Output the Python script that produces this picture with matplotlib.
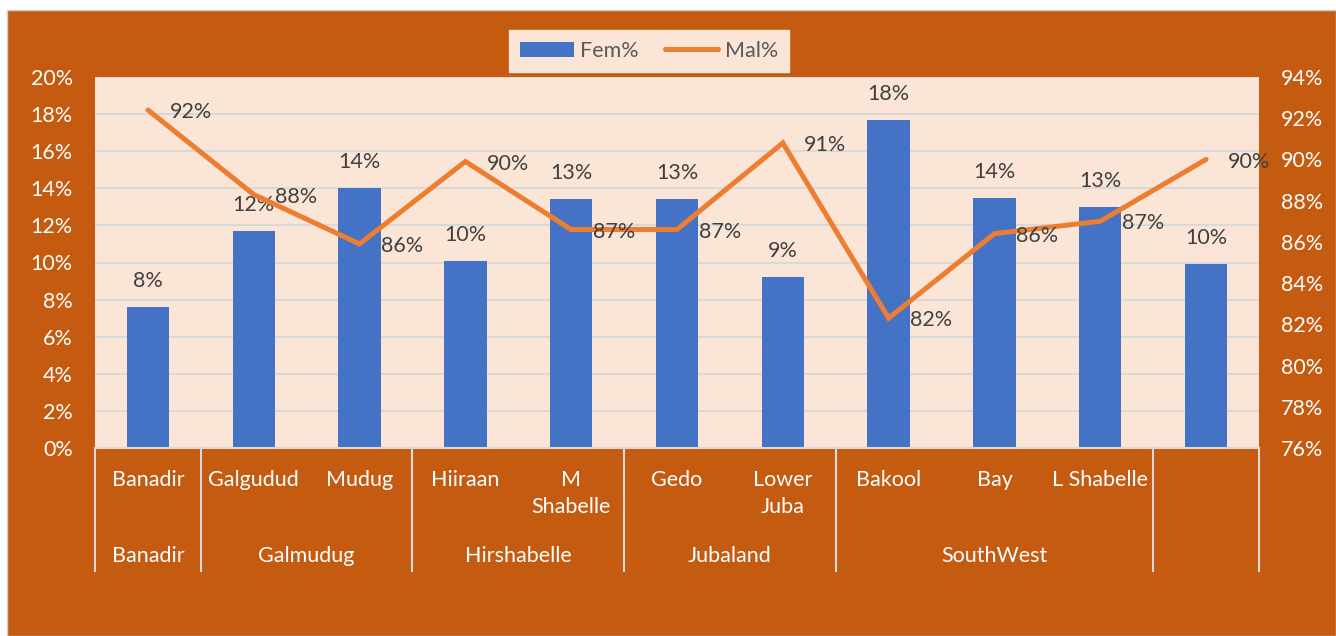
import matplotlib
matplotlib.use('Agg')
import matplotlib.pyplot as plt
from matplotlib.patches import Rectangle
from matplotlib.ticker import FuncFormatter
from matplotlib.lines import Line2D
import numpy as np

districts = ['Banadir', 'Galgudud', 'Mudug', 'Hiiraan', 'M\nShabelle', 'Gedo',
             'Lower\nJuba', 'Bakool', 'Bay', 'L Shabelle', '']
regions = ['Banadir', 'Galmudug', 'Hirshabelle', 'Jubaland', 'SouthWest', '']
region_sizes = [1, 2, 2, 2, 3, 1]
fem = [7.6, 11.7, 14.0, 10.1, 13.4, 13.4, 9.2, 17.7, 13.5, 13.0, 9.9]
mal = [92.4, 88.3, 85.9, 89.9, 86.6, 86.6, 90.8, 82.3, 86.4, 87.0, 90.0]
left_ticks = [0, 2, 4, 6, 8, 10, 12, 14, 16, 18, 20]
right_ticks = [76, 78, 80, 82, 84, 86, 88, 90, 92, 94]

ORANGE_BG = '#C55A11'
PLOT_BG = '#FBE5D6'
BLUE = '#4472C4'
LINE = '#ED7D31'
DARK = '#404040'
GRID = '#D9D9D9'

plt.rcParams['font.family'] = ['Lato', 'DejaVu Sans']
FS = 15.5

W, H = 1336, 636
fig = plt.figure(figsize=(W / 100, H / 100), dpi=100, facecolor='white')
fig.patches.append(Rectangle((7 / W, 0), 1 - 7 / W, 1 - 10 / H, transform=fig.transFigure,
                             facecolor=ORANGE_BG, edgecolor='#D0D0D0', linewidth=1, zorder=-10))

x0, x1, y0, y1 = 95, 1259, 77, 448
ax = fig.add_axes([x0 / W, 1 - y1 / H, (x1 - x0) / W, (y1 - y0) / H])
ax.set_facecolor(PLOT_BG)
ax.set_axisbelow(True)

x = np.arange(len(districts))
bars = ax.bar(x, fem, width=0.4, color=BLUE, zorder=2)
ax.set_xlim(-0.5, len(districts) - 0.5)
ax.set_ylim(0, 20)
ax.set_yticks(left_ticks)
ax.yaxis.set_major_formatter(FuncFormatter(lambda v, p: f"{int(round(v))}%"))
ax.grid(axis='y', color=GRID, linewidth=1.5)
ax.tick_params(axis='y', length=0, pad=16, labelsize=FS, labelcolor='white')
ax.tick_params(axis='x', length=0, labelbottom=False)
for s in ['top', 'right', 'left']:
    ax.spines[s].set_visible(False)
ax.spines['bottom'].set_color(GRID)
ax.spines['bottom'].set_linewidth(1.5)

def r0(v):
    return f"{int(np.floor(v + 0.5))}%"

for xi, v in zip(x, fem):
    ax.annotate(r0(v), (xi, v), xytext=(0, 18.7), textcoords='offset points',
                ha='center', va='center', fontsize=FS, color=DARK, zorder=5)

ax2 = ax.twinx()
ax2.plot(x, mal, color=LINE, linewidth=3.6, solid_capstyle='round', solid_joinstyle='miter', zorder=3)
ax2.set_ylim(76, 94)
ax2.set_yticks(right_ticks)
ax2.yaxis.set_major_formatter(FuncFormatter(lambda v, p: f"{int(round(v))}%"))
ax2.tick_params(axis='y', length=0, pad=16, labelsize=FS, labelcolor='white')
for s in ['top', 'right', 'left', 'bottom']:
    ax2.spines[s].set_visible(False)
for xi, v in zip(x, mal):
    ax2.annotate(r0(v), (xi, v), xytext=(15.5, -1.5), textcoords='offset points',
                 ha='left', va='center', fontsize=FS, color=DARK, zorder=6,
                 annotation_clip=False)

# multi-level category axis
trans = ax.get_xaxis_transform()
for xi, name in zip(x, districts):
    ax.text(xi, -0.06, name, transform=trans, ha='center', va='top', fontsize=FS,
            color='white', linespacing=1.45)
bounds = [-0.5]
for sz in region_sizes:
    bounds.append(bounds[-1] + sz)
for b in bounds:
    ax.add_line(Line2D([b, b], [0, -0.3315], transform=trans, color=GRID,
                       linewidth=1.5, clip_on=False))
for i, name in enumerate(regions):
    c = (bounds[i] + bounds[i + 1]) / 2
    ax.text(c, -0.291, name, transform=trans, ha='center', va='center', fontsize=FS,
            color='white')

handles = [Rectangle((0, 0), 1, 1, facecolor=BLUE),
           Line2D([0], [0], color=LINE, linewidth=3.6, solid_capstyle='round')]
leg = fig.legend(handles, ['Fem%', 'Mal%'], loc='center', bbox_to_anchor=(649 / W, 1 - 51 / H),
                 ncol=2, frameon=True, fancybox=False, facecolor=PLOT_BG, edgecolor=PLOT_BG,
                 framealpha=1, fontsize=FS, handlelength=2.5, handleheight=0.7,
                 columnspacing=1.2, handletextpad=0.3, borderpad=0.5)
for t in leg.get_texts():
    t.set_color('#595959')

fig.savefig('out.png', dpi=100, facecolor=fig.get_facecolor())
